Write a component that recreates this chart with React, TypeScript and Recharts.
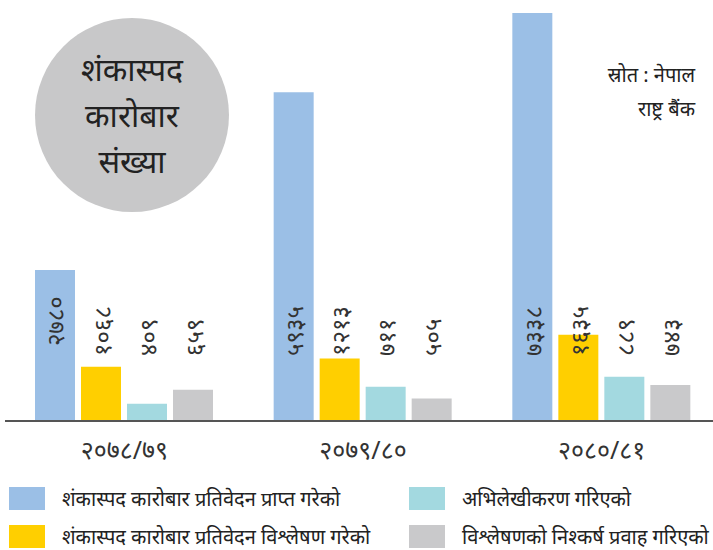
import { BarChart, Bar, XAxis, YAxis, LabelList } from 'recharts';

const years = ['२०७८/७९', '२०७९/८०', '२०८०/८१'];
const received = [2780, 5935, 7338];
const analysed = [1068, 1213, 1635];
const recorded = [409, 711, 889];
const forwarded = [659, 505, 743];

const seriesNames = [
  'शंकास्पद कारोबार प्रतिवेदन प्राप्त गरेको',
  'शंकास्पद कारोबार प्रतिवेदन विश्लेषण गरेको',
  'अभिलेखीकरण गरिएको',
  'विश्लेषणको निश्कर्ष प्रवाह गरिएको',
];
const seriesKeys = ['received', 'analysed', 'recorded', 'forwarded'];
const colors = ['#9bbfe6', '#ffcf00', '#a3d9e0', '#c9c9cb'];

const data = years.map((year, i) => ({
  year,
  received: received[i],
  analysed: analysed[i],
  recorded: recorded[i],
  forwarded: forwarded[i],
}));

const devDigits = '०१२३४५६७८९';
const toDev = (n: number) =>
  String(n)
    .split('')
    .map((c) => devDigits[Number(c)] ?? c)
    .join('');

const FONT = '"Noto Sans", "DejaVu Sans", sans-serif';

function ValueLabel(props: any) {
  const { x, y, width, value, inset } = props;
  const cx = x + width / 2;
  // labels sit on a common line; a short blue bar keeps its label just inside its top
  const baseY = inset && y > 250 ? y + 76 : 356;
  return (
    <text
      x={cx}
      y={baseY}
      transform={`rotate(-90 ${cx} ${baseY})`}
      textAnchor="start"
      dominantBaseline="central"
      fontSize={24}
      fill="#333"
      fontFamily={FONT}
    >
      {toDev(value)}
    </text>
  );
}

export default function App() {
  const legendOrder = [0, 2, 1, 3];
  return (
    <div
      style={{
        position: 'relative',
        width: 713,
        height: 550,
        overflow: 'hidden',
        background: '#fff',
        fontFamily: FONT,
      }}
    >
      <style>{'body{margin:0}'}</style>
      <BarChart
        width={721}
        height={472}
        data={data}
        margin={{ top: 13, right: 0, left: 5, bottom: 0 }}
        barCategoryGap={30}
        barGap={6}
      >
        <XAxis
          dataKey="year"
          tickLine={false}
          axisLine={{ stroke: '#555', strokeWidth: 2 }}
          tick={{ fontSize: 25, fill: '#333', fontFamily: FONT }}
          height={51}
          tickMargin={14}
        />
        {/* bars in the source sit a few px into the axis, hence the small floor */}
        <YAxis hide domain={[105, 7338]} allowDataOverflow />
        {seriesKeys.map((k, i) => (
          <Bar key={k} dataKey={k} fill={colors[i]} isAnimationActive={false}>
            <LabelList dataKey={k} content={<ValueLabel inset={i === 0} />} />
          </Bar>
        ))}
      </BarChart>

      <div
        style={{
          position: 'absolute',
          left: 35,
          top: 18,
          width: 194,
          height: 194,
          borderRadius: '50%',
          background: '#c8c8c9',
          display: 'flex',
          flexDirection: 'column',
          alignItems: 'center',
          justifyContent: 'center',
          fontSize: 32,
          lineHeight: '46px',
          color: '#222',
        }}
      >
        <div>शंकास्पद</div>
        <div>कारोबार</div>
        <div>संख्या</div>
      </div>

      <div
        style={{
          position: 'absolute',
          right: 18,
          top: 58,
          textAlign: 'right',
          fontSize: 20,
          lineHeight: '34px',
          color: '#222',
        }}
      >
        <div>स्रोत : नेपाल</div>
        <div>राष्ट्र बैंक</div>
      </div>

      <div
        style={{
          position: 'absolute',
          left: 9,
          top: 487,
          display: 'grid',
          gridTemplateColumns: '400px 320px',
          rowGap: 15,
        }}
      >
        {legendOrder.map((i) => (
          <div key={i} style={{ display: 'flex', alignItems: 'center', height: 23 }}>
            <span
              style={{
                width: 36,
                height: 23,
                background: colors[i],
                marginRight: 17,
                flexShrink: 0,
              }}
            />
            <span style={{ fontSize: 20, color: '#222', whiteSpace: 'nowrap' }}>
              {seriesNames[i]}
            </span>
          </div>
        ))}
      </div>
    </div>
  );
}
